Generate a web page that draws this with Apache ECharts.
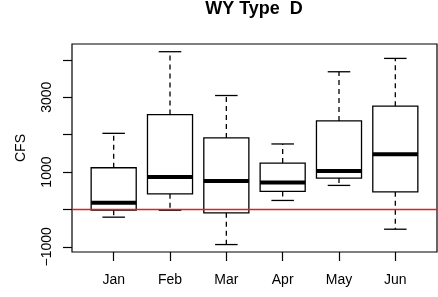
<!DOCTYPE html>
<html>
<head>
<meta charset="utf-8">
<script src="https://cdn.jsdelivr.net/npm/echarts@6/dist/echarts.min.js"></script>
<style>
  html, body { margin: 0; padding: 0; background: #fff; }
  #chart { width: 438px; height: 297px; }
</style>
</head>
<body>
<div id="chart"></div>
<script>
// Boxplot av flöden (CFS) per månad, WY typ D – låda, median och streckade morrhår.
const MONTHS = ['Jan', 'Feb', 'Mar', 'Apr', 'May', 'Jun']
const MONTH_POS = [1, 2, 3, 4, 5, 6]
const LOW    = [-206,  -20, -938,  241,  643, -528]
const Q1     = [ -19,  418,  -90,  483,  839,  472]
const MEDIAN = [ 177,  866,  759,  724, 1027, 1475]
const Q3     = [1115, 2536, 1912, 1241, 2367, 2761]
const HIGH   = [2035, 4217, 3046, 1751, 3681, 4038]
const Y_TICKS = [-1000, 0, 1000, 2000, 3000, 4000]
const Y_LABELS = [-1000, 1000, 3000]
const REF_LINE = 0
const X_MIN = 0.26, X_MAX = 6.74

const FONT = 'Liberation Sans'
const chart = echarts.init(document.getElementById('chart'))

const rows = MONTHS.map((m, i) => [MONTH_POS[i], LOW[i], Q1[i], MEDIAN[i], Q3[i], HIGH[i]])

function renderBox(params, api) {
  const x = api.value(0)
  const half = api.size([1, 0])[0] * 0.4
  const cap = half / 2
  const p = k => api.coord([x, api.value(k)])
  const lo = p(1), q1 = p(2), md = p(3), q3 = p(4), hi = p(5)
  const cx = lo[0]
  const thin = { stroke: '#000', lineWidth: 1.3 }
  const dash = { stroke: '#000', lineWidth: 1.3, lineDash: [5, 4] }
  return {
    type: 'group',
    children: [
      { type: 'line', shape: { x1: cx, y1: q3[1], x2: cx, y2: hi[1] }, style: dash },
      { type: 'line', shape: { x1: cx, y1: q1[1], x2: cx, y2: lo[1] }, style: dash },
      { type: 'line', shape: { x1: cx - cap, y1: hi[1], x2: cx + cap, y2: hi[1] }, style: thin },
      { type: 'line', shape: { x1: cx - cap, y1: lo[1], x2: cx + cap, y2: lo[1] }, style: thin },
      { type: 'rect', shape: { x: cx - half, y: q3[1], width: half * 2, height: q1[1] - q3[1] },
        style: { fill: '#fff', stroke: '#000', lineWidth: 1.3 } },
      { type: 'line', shape: { x1: cx - half, y1: md[1], x2: cx + half, y2: md[1] },
        style: { stroke: '#000', lineWidth: 4 } }
    ]
  }
}

// Röd referenslinje över hela plotbredden.
function renderRef(params, api) {
  const v = api.value(0)
  const a = api.coord([X_MIN, v]), b = api.coord([X_MAX, v])
  return { type: 'line', shape: { x1: a[0], y1: a[1], x2: b[0], y2: b[1] },
    style: { stroke: '#e02020', lineWidth: 1.5 } }
}

chart.setOption({
  animation: false,
  textStyle: { fontFamily: FONT },
  title: {
    text: 'WY Type  D', left: 254, top: 0, padding: 0, textAlign: 'center',
    textStyle: { fontFamily: FONT, fontSize: 18, fontWeight: 'bold', color: '#000' }
  },
  grid: {
    left: 72, right: 1, top: 44, bottom: 45,
    show: true, borderColor: '#000', borderWidth: 1.2, backgroundColor: 'transparent'
  },
  xAxis: {
    type: 'value', min: X_MIN, max: X_MAX,
    splitLine: { show: false },
    axisLine: { show: false, onZero: false },
    axisTick: { show: true, inside: false, length: 9, lineStyle: { color: '#000', width: 1.2 }, customValues: MONTH_POS },
    axisLabel: {
      customValues: MONTH_POS, margin: 21, fontSize: 14, color: '#000', fontFamily: FONT,
      formatter: v => MONTHS[MONTH_POS.indexOf(Math.round(v))]
    }
  },
  yAxis: {
    type: 'value', min: -1137, max: 4423,
    name: 'CFS', nameLocation: 'middle', nameGap: 44, nameRotate: 90,
    nameTextStyle: { fontSize: 14, color: '#000', fontFamily: FONT },
    splitLine: { show: false },
    axisLine: { show: false, onZero: false },
    axisTick: { show: true, length: 9, lineStyle: { color: '#000', width: 1.2 }, customValues: Y_TICKS },
    axisLabel: {
      customValues: Y_LABELS, rotate: 90, margin: 18, fontSize: 14, color: '#000', fontFamily: FONT,
      formatter: v => (v < 0 ? '\u2212' : '') + Math.abs(v)
    }
  },
  series: [
    { type: 'custom', renderItem: renderBox, data: rows, z: 2, encode: { x: 0, y: [1, 2, 3, 4, 5] } },
    { type: 'custom', renderItem: renderRef, data: [[REF_LINE]], z: 3, encode: { y: 0 }, clip: false }
  ]
})
</script>
</body>
</html>
